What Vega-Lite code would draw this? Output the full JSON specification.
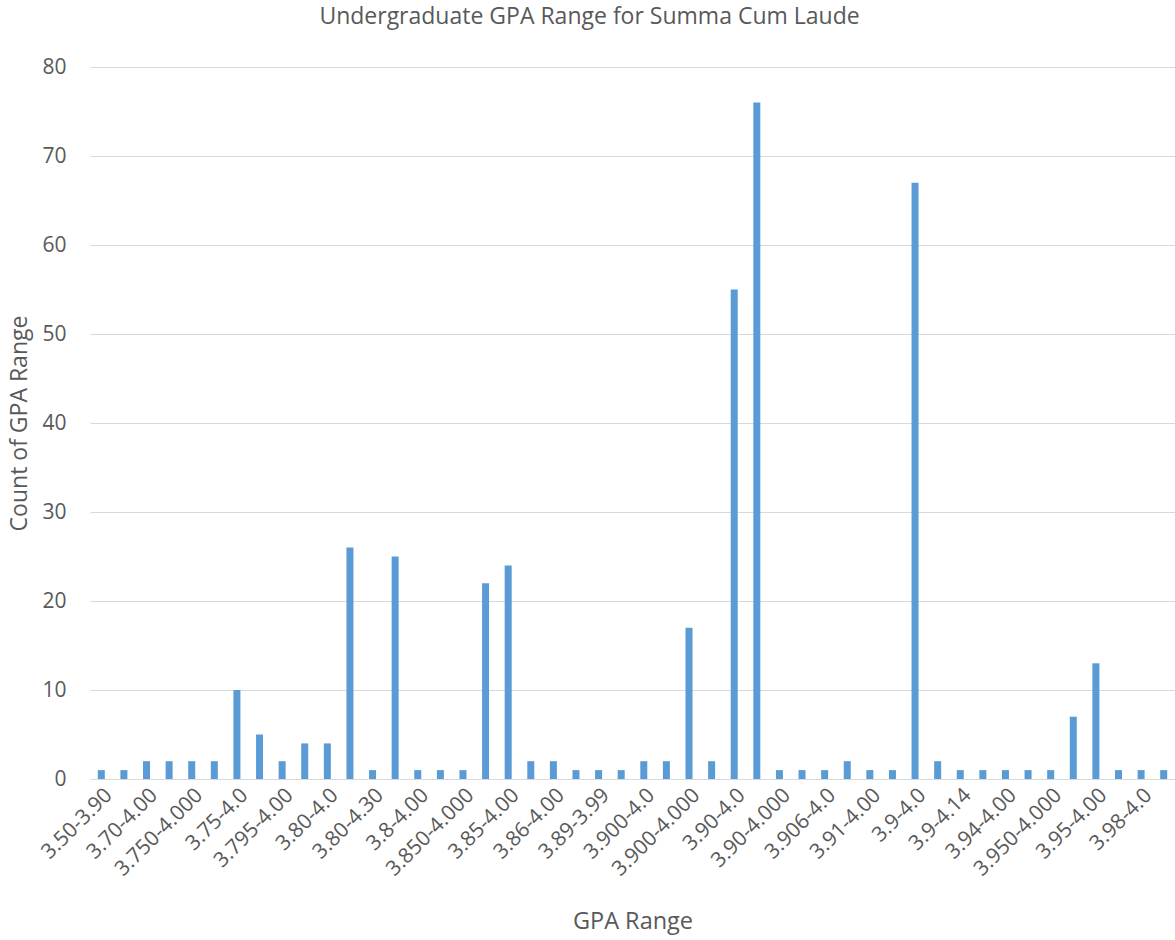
{
  "$schema": "https://vega.github.io/schema/vega-lite/v6.json",
  "width": 1085,
  "height": 712,
  "autosize": "none",
  "padding": {"left": 90, "top": 67, "right": 0, "bottom": 161},
  "background": "white",
  "config": {
    "font": "Open Sans",
    "view": {"stroke": null}
  },
  "title": {
    "text": "Undergraduate GPA Range for Summa Cum Laude",
    "fontSize": 23,
    "fontWeight": "normal",
    "color": "#595959",
    "anchor": "middle",
    "dx": -43,
    "offset": 27
  },
  "data": {
    "values": [
      {"range": "3.50-3.90", "count": 1},
      {"range": "3.6-4.0", "count": 1},
      {"range": "3.70-4.00", "count": 2},
      {"range": "3.75-4.00", "count": 2},
      {"range": "3.750-4.000", "count": 2},
      {"range": "3.750-4.00", "count": 2},
      {"range": "3.75-4.0", "count": 10},
      {"range": "3.790-4.00", "count": 5},
      {"range": "3.795-4.00", "count": 2},
      {"range": "3.800-4.000", "count": 4},
      {"range": "3.80-4.0", "count": 4},
      {"range": "3.80-4.00", "count": 26},
      {"range": "3.80-4.30", "count": 1},
      {"range": "3.8-4.0", "count": 25},
      {"range": "3.8-4.00", "count": 1},
      {"range": "3.83-4.00", "count": 1},
      {"range": "3.850-4.000", "count": 1},
      {"range": "3.85-4.0", "count": 22},
      {"range": "3.85-4.00", "count": 24},
      {"range": "3.85-4.000", "count": 2},
      {"range": "3.86-4.00", "count": 2},
      {"range": "3.87-4.00", "count": 1},
      {"range": "3.89-3.99", "count": 1},
      {"range": "3.89-4.00", "count": 1},
      {"range": "3.900-4.0", "count": 2},
      {"range": "3.900-4.00", "count": 2},
      {"range": "3.900-4.000", "count": 17},
      {"range": "3.90-3.99", "count": 2},
      {"range": "3.90-4.0", "count": 55},
      {"range": "3.90-4.00", "count": 76},
      {"range": "3.90-4.000", "count": 1},
      {"range": "3.90-4.30", "count": 1},
      {"range": "3.906-4.0", "count": 1},
      {"range": "3.91-4.0", "count": 2},
      {"range": "3.91-4.00", "count": 1},
      {"range": "3.92-4.00", "count": 1},
      {"range": "3.9-4.0", "count": 67},
      {"range": "3.9-4.00", "count": 2},
      {"range": "3.9-4.14", "count": 1},
      {"range": "3.93-4.00", "count": 1},
      {"range": "3.94-4.00", "count": 1},
      {"range": "3.950-4.00", "count": 1},
      {"range": "3.950-4.000", "count": 1},
      {"range": "3.95-4.0", "count": 7},
      {"range": "3.95-4.00", "count": 13},
      {"range": "3.96-4.00", "count": 1},
      {"range": "3.98-4.0", "count": 1},
      {"range": "3.98-4.00", "count": 1}
    ]
  },
  "mark": {"type": "bar", "color": "#5B9BD5"},
  "encoding": {
    "x": {
      "field": "range",
      "type": "nominal",
      "sort": null,
      "scale": {"paddingInner": 0.69, "paddingOuter": 0.345},
      "title": "GPA Range",
      "axis": {
        "values": ["3.50-3.90", "3.70-4.00", "3.750-4.000", "3.75-4.0", "3.795-4.00", "3.80-4.0", "3.80-4.30", "3.8-4.00", "3.850-4.000", "3.85-4.00", "3.86-4.00", "3.89-3.99", "3.900-4.0", "3.900-4.000", "3.90-4.0", "3.90-4.000", "3.906-4.0", "3.91-4.00", "3.9-4.0", "3.9-4.14", "3.94-4.00", "3.950-4.000", "3.95-4.00", "3.98-4.0"],
        "labelAngle": -45,
        "labelFontSize": 21,
        "labelColor": "#595959",
        "labelPadding": 5,
        "ticks": false,
        "domainColor": "#D9D9D9",
        "domainWidth": 1,
        "titleFontSize": 23.5,
        "titleFontWeight": "normal",
        "titleColor": "#595959",
        "titlePadding": 30
      }
    },
    "y": {
      "field": "count",
      "type": "quantitative",
      "scale": {"domain": [0, 80]},
      "title": "Count of GPA Range",
      "axis": {
        "values": [0, 10, 20, 30, 40, 50, 60, 70, 80],
        "domain": false,
        "ticks": false,
        "gridColor": "#D9D9D9",
        "gridWidth": 1,
        "labelFontSize": 21,
        "labelColor": "#595959",
        "labelPadding": 24,
        "titleFontSize": 23,
        "titleFontWeight": "normal",
        "titleColor": "#595959",
        "titlePadding": 10
      }
    }
  }
}
